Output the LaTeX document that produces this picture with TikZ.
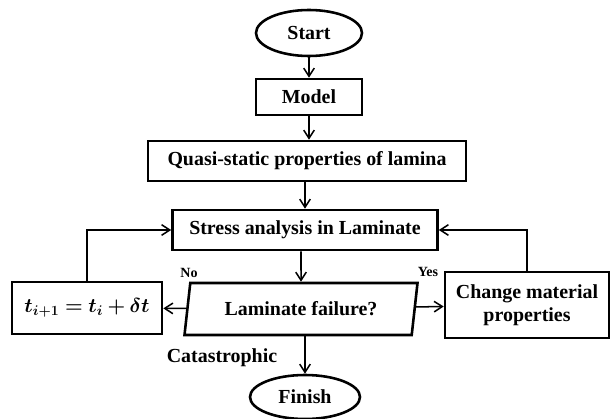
\documentclass[tikz,border=0pt]{standalone}
\usepackage{amsmath}
\usepackage{bm}
\usepackage{fontspec}
\setmainfont{Liberation Serif}
\usetikzlibrary{shapes.geometric,arrows.meta,positioning}
\newcommand{\bigbf}{\fontsize{17}{20}\selectfont\bfseries}
\newcommand{\tstepeq}{$\bm{t_{i+1}=t_i+\delta t}$}
\tikzset{
  term/.style={ellipse,draw,line width=2.2pt,font=\bigbf,
               inner sep=0pt,align=center},
  proc/.style={rectangle,draw,line width=2.2pt,font=\bigbf,
               inner sep=2pt,align=center},
  dec/.style={trapezium,trapezium left angle=68,trapezium right angle=112,
              trapezium stretches body,draw,line width=2.2pt,font=\bigbf,
              inner sep=0pt,align=center},
  arr/.style={-{Straight Barb[length=7pt,width=9pt,line width=1.3pt]},line width=1.3pt},
  lbl/.style={font=\bigbf,inner sep=0pt},
  slbl/.style={font=\fontsize{12}{14}\selectfont\bfseries,inner sep=0pt},
}

\begin{document}
\begin{tikzpicture}[x=0.03cm,y=-0.03cm]
        \useasboundingbox (0,0) rectangle (613,419);

        \node[term, minimum width=3.18cm, minimum height=1.38cm] (start) at (309,33) {Start};
        \node[proc, minimum width=3.18cm, minimum height=1.08cm] (model) at (309,97) {Model};
        \node[proc, minimum width=9.54cm, minimum height=1.2cm] (quasi) at (307,161) {Quasi-static properties of lamina};
        \node[proc, minimum width=7.95cm, minimum height=1.2cm] (stress) at (305,230) {Stress analysis in Laminate};
        \node[dec, minimum width=6.99cm, minimum height=1.56cm] (fail) at (301,309) {Laminate failure?};
        \node[proc, minimum width=4.5cm, minimum height=1.56cm] (tstep) at (87,308) {\tstepeq};
        \node[proc, minimum width=4.92cm, minimum height=1.98cm] (change) at (527,305) {Change material\\properties};
        \node[term, minimum width=3.3cm, minimum height=1.32cm] (finish) at (305,397) {Finish};

        \node[slbl] (no) at (189,273) {No};
        \node[slbl] (yes) at (428,272) {Yes};
        \node[lbl] (cat) at (222,358) {Catastrophic};

        \draw[arr] (start) -- (model);
        \draw[arr] (model) -- (model |- quasi.north);
        \draw[arr] (quasi.south -| stress) -- (stress);
        \draw[arr] (stress.south -| fail) -- (fail);
        \draw[arr] (fail) -- (tstep);
        \draw[arr] (fail) -- (change);
        \draw[arr] (fail.south -| finish) -- (finish);
        \draw[arr] (tstep.north) |- (stress.west);
        \draw[arr] (change.north) |- (stress.east);
      \end{tikzpicture}
\end{document}
